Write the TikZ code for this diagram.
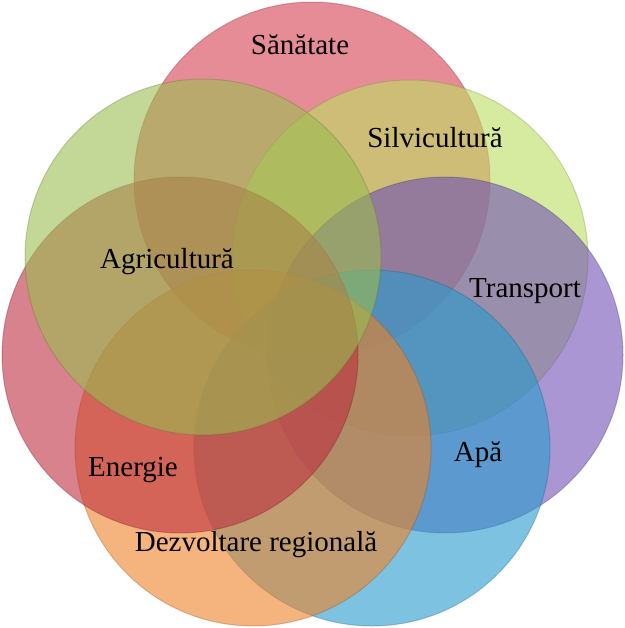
\documentclass[tikz,border=0pt]{standalone}
\usepackage{fontspec}
\setmainfont{Liberation Serif}
\definecolor{sanatatecol}{RGB}{213,63,80}
\definecolor{silvicol}{RGB}{188,222,97}
\definecolor{transcol}{RGB}{113,80,180}
\definecolor{apacol}{RGB}{38,155,205}
\definecolor{dezvcol}{RGB}{238,130,38}
\definecolor{energcol}{RGB}{188,47,63}
\definecolor{agricol}{RGB}{155,188,80}
\tikzset{
  ring/.style={circle, minimum size=356pt, inner sep=0pt, outer sep=0pt,
    fill opacity=0.6, draw opacity=0.3, line width=1pt},
  lbl/.style={font=\fontsize{29}{34}\selectfont, text=black, inner sep=0pt}
}
\begin{document}
\begin{tikzpicture}[x=1pt,y=-1pt]
  \useasboundingbox (0,0) rectangle (624,628);
  % circles, back to front
  \node[ring, fill=sanatatecol, draw=sanatatecol!60!black] (sanatate) at (312,180) {};
  \node[ring, fill=silvicol, draw=silvicol!60!black] (silvi) at (410,258) {};
  \node[ring, fill=transcol, draw=transcol!60!black] (transport) at (445,355) {};
  \node[ring, fill=apacol, draw=apacol!60!black] (apa) at (372,448) {};
  \node[ring, fill=dezvcol, draw=dezvcol!60!black] (dezv) at (253,448) {};
  \node[ring, fill=energcol, draw=energcol!60!black] (energie) at (180,355) {};
  \node[ring, fill=agricol, draw=agricol!60!black] (agri) at (203,257) {};
  % labels
  \node[lbl] (tsanatate) at (300,45) {Sănătate};
  \node[lbl] (tsilvi) at (435,138) {Silvicultură};
  \node[lbl] (ttransport) at (525,291) {Transport};
  \node[lbl] (tagri) at (167,262) {Agricultură};
  \node[lbl] (tapa) at (478,455) {Apă};
  \node[lbl] (tenergie) at (133,470) {Energie};
  \node[lbl] (tdezv) at (256,545) {Dezvoltare regională};
\end{tikzpicture}
\end{document}
